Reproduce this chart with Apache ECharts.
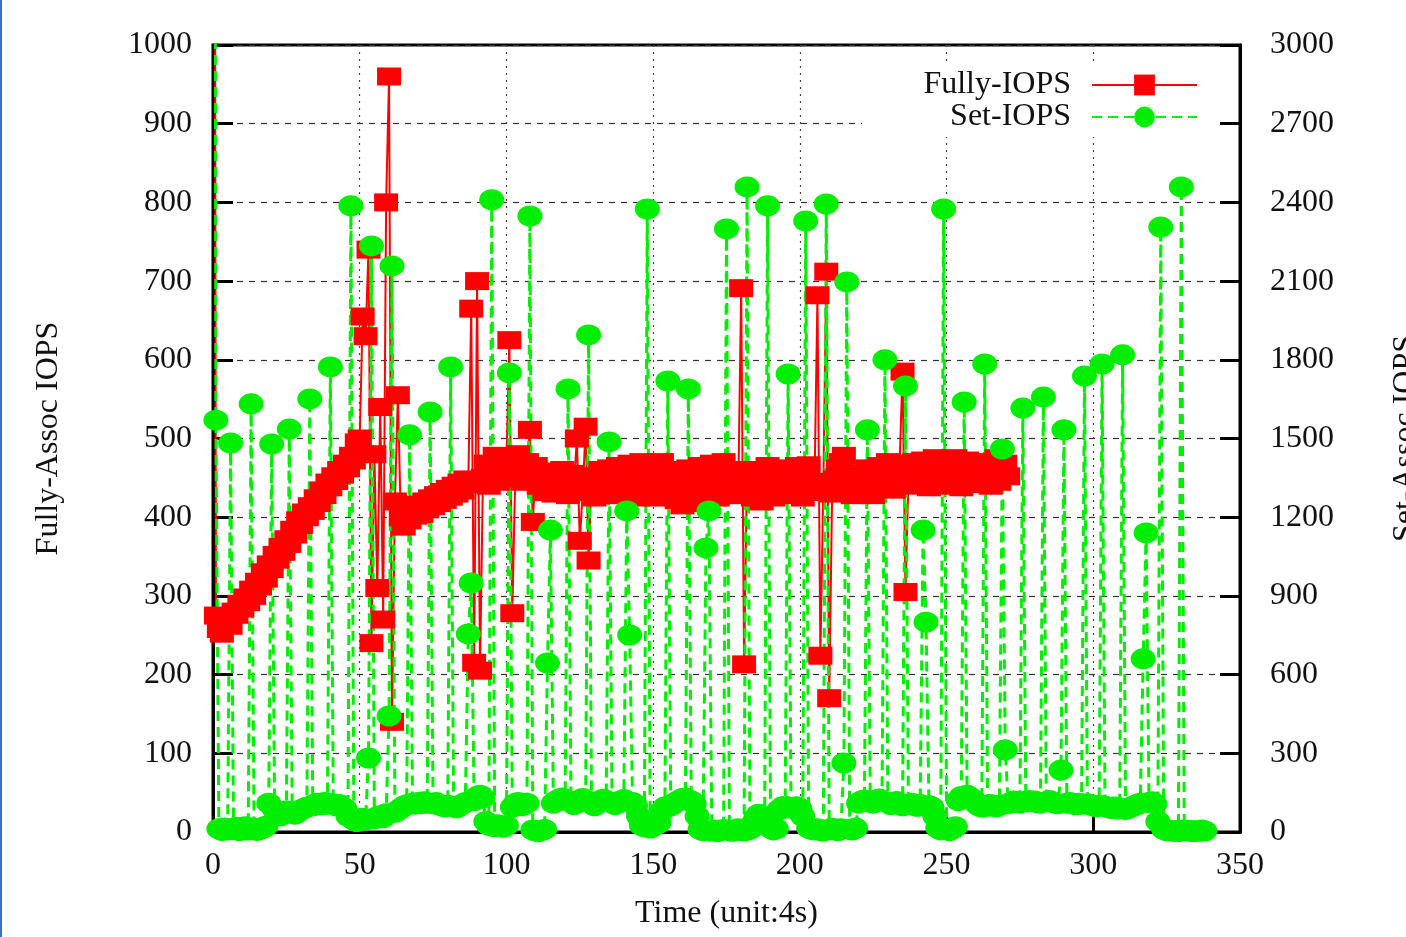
<!DOCTYPE html>
<html>
<head>
<meta charset="utf-8">
<script src="https://cdn.jsdelivr.net/npm/echarts@6/dist/echarts.min.js"></script>
<style>
html,body{margin:0;padding:0;background:#fff;}
#chart{width:1406px;height:937px;}
</style>
</head>
<body>
<div id="chart"></div>
<script>
// Time samples are 0,1,2,... (unit: 4s)
const xTicks = [0, 50, 100, 150, 200, 250, 300, 350];
const leftTicks = [0, 100, 200, 300, 400, 500, 600, 700, 800, 900, 1000];
const rightTicks = [0, 300, 600, 900, 1200, 1500, 1800, 2100, 2400, 2700, 3000];

// Fully-Assoc IOPS (left axis), samples 0..271
const fullyIOPS = [
3000,275,258,252,266,270,262,280,276,290,
284,298,292,308,300,318,312,330,322,340,
334,352,346,362,356,372,366,384,378,396,
390,406,400,414,408,424,418,434,428,444,
438,452,446,460,454,468,462,478,472,495,
500,655,630,740,240,480,310,540,270,800,
960,140,420,555,400,388,404,396,410,402,
416,404,420,410,424,414,428,418,432,422,
436,426,440,430,444,434,448,442,665,215,
700,205,450,468,440,462,478,445,472,455,
468,625,278,450,480,462,445,470,511,394,
465,440,455,432,458,445,430,452,438,460,
442,428,455,440,500,370,432,515,345,452,
425,448,460,430,445,462,428,450,465,438,
455,430,468,445,425,458,470,440,432,462,
448,425,455,470,438,430,460,445,422,440,
415,450,462,428,418,445,465,430,420,452,
468,440,425,455,470,435,428,458,445,430,
691,213,460,432,425,455,448,420,442,465,
438,425,450,462,430,445,458,428,440,465,
445,425,452,466,432,445,682,224,440,712,
170,430,448,462,470,478,455,438,428,445,
455,432,440,462,448,428,452,465,440,458,
470,445,435,458,468,585,305,448,462,470,
440,458,472,445,438,462,475,448,442,468,
455,440,465,475,448,438,460,472,445,458,
470,442,455,468,448,440,462,475,445,458,
468,452
];

// Set-Assoc IOPS (right axis), samples 0..338
const setIOPS = [
9000,1570,12,6,15,8,1483,10,18,5,
12,20,8,1632,15,6,10,14,22,110,
1479,85,70,62,75,80,1536,72,68,78,
85,90,95,1651,100,108,110,104,112,106,
1773,108,100,105,96,88,60,2387,45,40,
48,52,45,282,2234,50,58,62,55,70,
442,2158,75,82,90,98,104,1514,110,106,
112,108,115,110,1601,108,112,104,100,96,
102,1773,98,92,100,106,112,755,949,120,
135,140,130,40,25,2410,20,28,22,18,
25,1750,95,108,112,100,104,110,2348,8,
4,2,6,10,644,1151,110,118,125,130,
122,1689,115,105,110,120,128,122,1895,110,
100,108,118,125,120,1487,112,105,110,118,
124,1224,751,112,100,60,25,20,2375,15,
22,28,35,80,95,1719,100,108,115,120,
128,130,1689,118,108,60,10,5,1083,1224,
4,8,2,6,10,2299,5,3,8,12,
6,4,2459,10,30,55,68,62,40,2387,
15,8,12,85,95,98,1746,92,88,96,
90,60,2329,15,10,8,12,6,4,2394,
10,14,8,5,12,263,2097,10,8,15,
110,118,122,1533,115,110,120,126,118,1800,
112,105,110,116,108,100,1700,105,110,102,
98,105,1151,800,100,95,60,15,8,2375,
10,5,12,20,120,135,1639,140,130,125,
110,100,95,1784,98,105,100,96,102,1460,
313,108,112,118,114,110,1616,116,120,115,
118,112,110,1658,115,120,114,110,108,236,
1533,110,112,108,104,110,106,1738,108,104,
100,96,102,1784,98,94,90,95,88,92,
1819,86,90,95,100,105,110,660,1140,112,
115,108,40,2306,10,5,8,3,6,2,
2459,8,4,6,2,5,3,8,4
];

const FONT = '"Liberation Serif", "DejaVu Serif", serif';
const FS = 32;
const chart = echarts.init(document.getElementById('chart'), null, {renderer: 'canvas'});

const fullyData = fullyIOPS.map((v, i) => [i, v]);
const setData = setIOPS.map((v, i) => [i, v]);

const tickStyle = {show: true, inside: true, length: 20, lineStyle: {color: '#000', width: 3}};
const labelStyle = {fontFamily: FONT, fontSize: FS, color: '#111', formatter: v => String(v)};

chart.setOption({
  animation: false,
  backgroundColor: '#fff',
  grid: {left: 213, right: 166, top: 45, bottom: 105, containLabel: false, outerBoundsMode: 'none',
         show: true, borderColor: '#000', borderWidth: 3, backgroundColor: 'transparent'},
  legend: {
    orient: 'vertical',
    right: 191,
    top: 65,
    align: 'right',
    itemWidth: 105,
    itemHeight: 26,
    itemGap: 0,
    padding: [4, 17, 4, 49],
    backgroundColor: '#fff',
    textStyle: {fontFamily: FONT, fontSize: FS, color: '#111', width: 160, align: 'right', lineHeight: 26, padding: [0, 16, 0, 0]},
    data: ['Fully-IOPS', 'Set-IOPS']
  },
  xAxis: {
    type: 'value', min: xTicks[0], max: xTicks[xTicks.length - 1], interval: 50,
    name: 'Time (unit:4s)', nameLocation: 'middle', nameGap: 66,
    nameTextStyle: {fontFamily: FONT, fontSize: FS, color: '#111'},
    axisLine: {show: true, onZero: false, lineStyle: {color: '#000', width: 3}},
    axisTick: tickStyle,
    axisLabel: Object.assign({margin: 18}, labelStyle),
    splitLine: {show: true, lineStyle: {color: '#444', width: 1.2, type: [2, 5]}}
  },
  yAxis: [
    {
      type: 'value', min: leftTicks[0], max: leftTicks[leftTicks.length - 1], interval: 100,
      name: 'Fully-Assoc IOPS', nameLocation: 'middle', nameGap: 148, nameRotate: 90,
      nameTextStyle: {fontFamily: FONT, fontSize: FS, color: '#111'},
      axisLine: {show: true, lineStyle: {color: '#000', width: 3}},
      axisTick: tickStyle,
      axisLabel: Object.assign({margin: 21}, labelStyle),
      splitLine: {show: true, lineStyle: {color: '#333', width: 1.2, type: [6, 6]}}
    },
    {
      type: 'value', min: rightTicks[0], max: rightTicks[rightTicks.length - 1], interval: 300,
      position: 'right',
      name: 'Set-Assoc IOPS', nameLocation: 'middle', nameGap: 150, nameRotate: 90,
      nameTextStyle: {fontFamily: FONT, fontSize: FS, color: '#111'},
      axisLine: {show: true, lineStyle: {color: '#000', width: 3}},
      axisTick: tickStyle,
      axisLabel: Object.assign({margin: 30}, labelStyle),
      splitLine: {show: false}
    }
  ],
  series: [
    {
      name: 'Fully-IOPS', type: 'line', yAxisIndex: 0,
      data: fullyData,
      showAllSymbol: true,
      symbol: 'rect', symbolSize: [24, 18],
      color: '#ff0000',
      itemStyle: {color: '#ff0000'},
      lineStyle: {color: '#ff0000', width: 2},
      clip: true
    },
    {
      name: 'Set-IOPS', type: 'line', yAxisIndex: 1,
      data: setData,
      showAllSymbol: true,
      symbol: 'circle', symbolSize: [25, 21],
      color: '#00ee00',
      itemStyle: {color: '#00ee00'},
      lineStyle: {color: '#00ee00', width: 3, type: [10, 6]},
      clip: true
    }
  ],
  graphic: [
    {type: 'rect', left: 0, top: 0, shape: {width: 2, height: 937}, style: {fill: '#3d6fc8'}, z: 100}
  ]
});
</script>
</body>
</html>
